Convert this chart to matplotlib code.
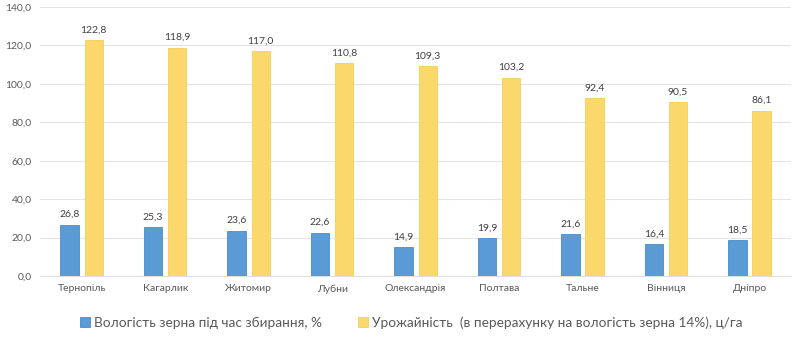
import matplotlib
matplotlib.use("Agg")
import matplotlib.pyplot as plt
import numpy as np

cities = ["Тернопіль", "Кагарлик", "Житомир", "Лубни", "Олександрія", "Полтава", "Тальне", "Вінниця", "Дніпро"]
moisture = [26.8, 25.3, 23.6, 22.6, 14.9, 19.9, 21.6, 16.4, 18.5]
yield_ = [122.8, 118.9, 117.0, 110.8, 109.3, 103.2, 92.4, 90.5, 86.1]
series_names = ["Вологість зерна під час збирання, %",
                "Урожайність  (в перерахунку на вологість зерна 14%), ц/га"]
yticks = [0, 20, 40, 60, 80, 100, 120, 140]

plt.rcParams['font.family'] = ['Lato', 'DejaVu Sans']
fig = plt.figure(figsize=(8, 3.42), dpi=100)
ax = fig.add_axes([0.05, 0.193, 0.939, 0.7865])

x = np.arange(len(cities))
w = 0.22
off = 0.145
b1 = ax.bar(x - off, moisture, w, color="#5B9BD5", edgecolor="#4A8BC8", linewidth=0.6, label=series_names[0], zorder=3)
b2 = ax.bar(x + off, yield_, w, color="#FAD86B", edgecolor="#F5CF55", linewidth=0.6, label=series_names[1], zorder=3)

for bars, vals in ((b1, moisture), (b2, yield_)):
    for r, v in zip(bars, vals):
        ax.annotate(f"{v:.1f}".replace(".", ","), (r.get_x() + r.get_width() / 2, v),
                    xytext=(0, 4), textcoords="offset points", ha="center", va="bottom",
                    fontsize=7.5, color="#404040")

ax.set_xlim(-0.5, len(cities) - 0.5)
ax.set_ylim(0, 140)
ax.set_yticks(yticks)
ax.set_yticklabels([f"{v:.1f}".replace(".", ",") for v in yticks], fontsize=7.5, color="#595959")
ax.set_xticks(x)
ax.set_xticklabels(cities, fontsize=7.5, color="#595959")
ax.tick_params(length=0, pad=6)
ax.grid(axis="y", color="#E4E4E4", linewidth=0.8, zorder=0)
for s in ["top", "right", "left"]:
    ax.spines[s].set_visible(False)
ax.spines["bottom"].set_color("#E0E0E0")

fig.legend(handles=[b1, b2], labels=series_names, loc="center", bbox_to_anchor=(0.514, 0.056),
           ncol=2, frameon=False, fontsize=9.8, handlelength=0.75, handleheight=0.75,
           handletextpad=0.3, columnspacing=2.6, labelcolor="#595959")

fig.savefig("out.png", dpi=100)
